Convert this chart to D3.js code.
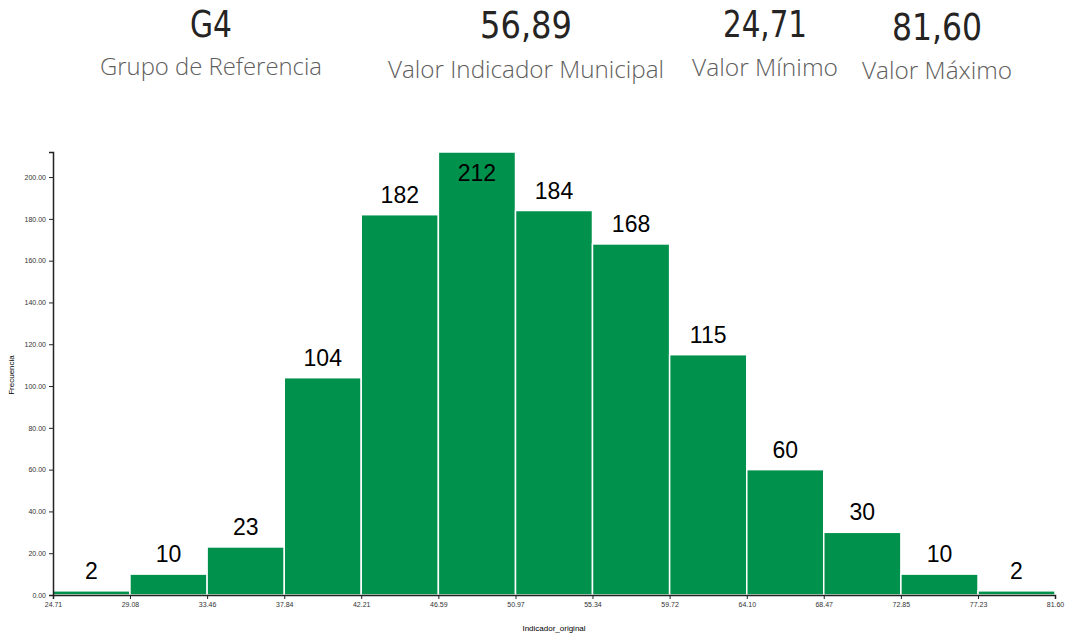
<!DOCTYPE html>
<html lang="es">
<head>
    <meta charset="UTF-8">
    <script src="https://d3js.org/d3.v7.min.js"></script>
    <title>Histograma</title>
    <style>
        body { margin: 0; background: #fff; }
        .kpi-value { font-family: "DejaVu Sans Condensed", "Open Sans", sans-serif; fill: #252423; }
        .kpi-label { font-family: "Open Sans", "Segoe UI", sans-serif; font-weight: 300; fill: #605e5c; }
        .axis text { font-family: "Liberation Sans", Arial, sans-serif; font-size: 7px; fill: #333; }
    </style>
</head>
<body>
<div id="viz"></div>
<script>
    // header cards
    const kpiValues = ["G4", "56,89", "24,71", "81,60"]
    const kpiLabels = ["Grupo de Referencia", "Valor Indicador Municipal", "Valor Mínimo", "Valor Máximo"]

    // histogram
    const binEdges = [24.71, 29.08, 33.46, 37.84, 42.21, 46.59, 50.97, 55.34, 59.72, 64.10, 68.47, 72.85, 77.23, 81.60]
    const counts = [2, 10, 23, 104, 182, 212, 184, 168, 115, 60, 30, 10, 2]
    const yTicks = [0, 20, 40, 60, 80, 100, 120, 140, 160, 180, 200]

    const width = 1065
    const height = 634
    const margin = {top: 152, left: 53, right: 10, bottom: 39}

    const svg = d3.select("#viz")
        .append("svg")
        .attr("width", width)
        .attr("height", height)

    // header text (widths squeezed to look like the condensed card font)
    const kpiX = [211, 526, 765, 937]
    const kpiValY = [37, 38, 37, 40]
    const kpiValW = [42, 92, 84, 90]
    const kpiLabY = [75, 78, 76, 79]
    const kpiLabW = [222, 276, 146, 150]
    svg.selectAll(".kpi-value")
        .data(kpiValues)
        .enter()
        .append("text")
        .attr("class", "kpi-value")
        .attr("x", (d, i) => kpiX[i] - kpiValW[i] / 2)
        .attr("y", (d, i) => kpiValY[i])
        .attr("font-size", 37)
        .attr("textLength", (d, i) => kpiValW[i])
        .attr("lengthAdjust", "spacingAndGlyphs")
        .text(d => d)
    svg.selectAll(".kpi-label")
        .data(kpiLabels)
        .enter()
        .append("text")
        .attr("class", "kpi-label")
        .attr("x", (d, i) => kpiX[i] - kpiLabW[i] / 2)
        .attr("y", (d, i) => kpiLabY[i])
        .attr("font-size", 23)
        .attr("textLength", (d, i) => kpiLabW[i])
        .attr("lengthAdjust", "spacingAndGlyphs")
        .text(d => d)

    const bins = counts.map((c, i) => ({x0: binEdges[i], x1: binEdges[i + 1], count: c}))

    const xScale = d3.scaleLinear()
        .domain([binEdges[0], binEdges[binEdges.length - 1]])
        .range([margin.left, width - margin.right])

    const yScale = d3.scaleLinear()
        .domain([0, d3.max(counts)])
        .range([height - margin.bottom, margin.top])

    // bars
    svg.selectAll(".bar")
        .data(bins)
        .enter()
        .append("rect")
        .attr("class", "bar")
        .attr("x", d => xScale(d.x0))
        .attr("y", d => yScale(d.count))
        .attr("width", d => xScale(d.x1) - xScale(d.x0))
        .attr("height", d => yScale(0) - yScale(d.count))
        .attr("fill", "#00914c")
        .attr("stroke", "#fff")
        .attr("stroke-width", 1.5)

    // count labels
    svg.selectAll(".lbl")
        .data(bins)
        .enter()
        .append("text")
        .attr("class", "lbl")
        .attr("x", d => (xScale(d.x0) + xScale(d.x1)) / 2)
        .attr("y", d => Math.max(yScale(d.count) - 12, margin.top + 29))
        .attr("text-anchor", "middle")
        .attr("font-family", "Liberation Sans, Arial, sans-serif")
        .attr("font-size", 23)
        .attr("fill", "#000")
        .text(d => d.count)

    // axes
    svg.append("g")
        .attr("class", "axis")
        .attr("transform", `translate(0,${height - margin.bottom})`)
        .call(d3.axisBottom(xScale).tickValues(binEdges).tickFormat(d3.format(".2f")).tickSize(4))
    svg.append("g")
        .attr("class", "axis")
        .attr("transform", `translate(${margin.left},0)`)
        .call(d3.axisLeft(yScale).tickValues(yTicks).tickFormat(d3.format(".2f")).tickSize(4))
    svg.selectAll(".axis .domain").attr("stroke", "#222").attr("stroke-width", 1.5)
    svg.selectAll(".axis .tick line").attr("stroke", "#222")

    svg.append("text")
        .attr("x", (margin.left + width - margin.right) / 2)
        .attr("y", 631)
        .attr("text-anchor", "middle")
        .attr("font-family", "Liberation Sans, Arial, sans-serif")
        .attr("font-size", 8)
        .text("Indicador_original")
    svg.append("text")
        .attr("transform", "translate(14,375) rotate(-90)")
        .attr("text-anchor", "middle")
        .attr("font-family", "Liberation Sans, Arial, sans-serif")
        .attr("font-size", 8)
        .text("Frecuencia")
</script>
</body>
</html>
